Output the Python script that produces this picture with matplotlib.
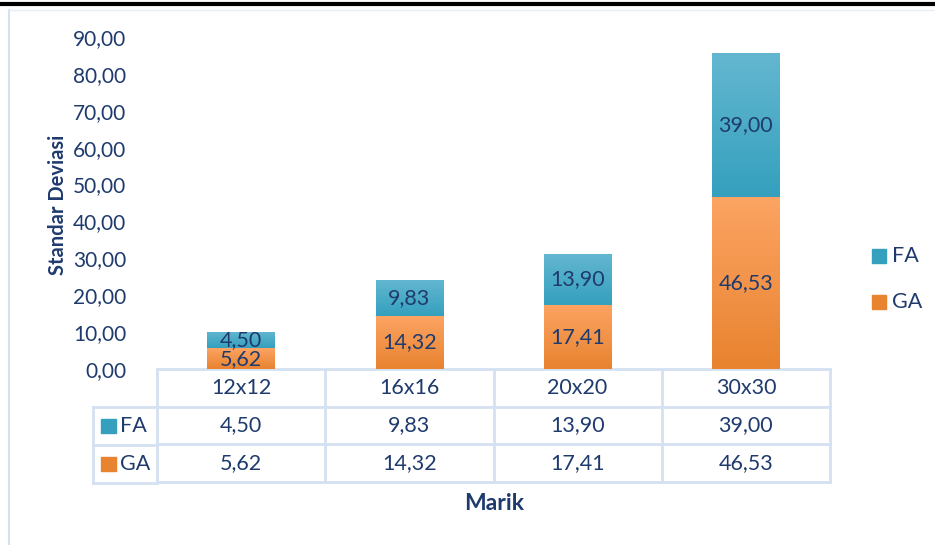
import numpy as np
import matplotlib.pyplot as plt
from matplotlib.patches import Rectangle
from matplotlib.lines import Line2D
from matplotlib.colors import LinearSegmentedColormap
from matplotlib.ticker import FuncFormatter
import matplotlib.transforms as mtransforms

plt.rcParams['font.family'] = ['Lato', 'DejaVu Sans']

categories = ['12x12', '16x16', '20x20', '30x30']
ga = [5.62, 14.32, 17.41, 46.53]
fa = [4.50, 9.83, 13.90, 39.00]
series_names = ['FA', 'GA']

txt = '#1F3B6E'
grid_c = '#D5E1F2'
ga_top, ga_bot = '#FCA463', '#E8832F'
fa_top, fa_bot = '#64B7D0', '#34A0BE'


def fmt(v):
    return f'{v:.2f}'.replace('.', ',')


fig = plt.figure(figsize=(9.35, 5.45), dpi=100)
W, H = 935, 545
ax = fig.add_axes([157 / W, (H - 369) / H, (830 - 157) / W, (369 - 37) / H])

x = np.arange(len(categories))
b_ga = ax.bar(x, ga, width=0.4, color=ga_bot, zorder=2)
b_fa = ax.bar(x, fa, width=0.4, bottom=ga, color=fa_bot, zorder=2)


def gradient(bars, top, bot):
    cmap = LinearSegmentedColormap.from_list('g', [bot, top])
    grad = np.linspace(0, 1, 256).reshape(-1, 1)
    for r in bars:
        x0, y0 = r.get_x(), r.get_y()
        w, h = r.get_width(), r.get_height()
        im = ax.imshow(grad, cmap=cmap, origin='lower', aspect='auto',
                       extent=[x0, x0 + w, y0, y0 + h], zorder=3)
        im.set_clip_path(r)


gradient(b_ga, ga_top, ga_bot)
gradient(b_fa, fa_top, fa_bot)

for i in range(len(categories)):
    ax.text(x[i], ga[i] / 2, fmt(ga[i]), ha='center', va='center',
            fontsize=15.5, color=txt, zorder=5)
    ax.text(x[i], ga[i] + fa[i] / 2, fmt(fa[i]), ha='center', va='center',
            fontsize=15.5, color=txt, zorder=5)

ax.set_xlim(-0.5, len(categories) - 0.5)
ax.set_ylim(0, 90)
ax.set_yticks(np.arange(0, 91, 10))
ax.yaxis.set_major_formatter(FuncFormatter(lambda v, p: fmt(v)))
ax.tick_params(axis='y', length=0, pad=22, labelsize=15, labelcolor=txt)
ax.set_xticks([])
for s in ax.spines.values():
    s.set_visible(False)

fig.text(58 / W, (H - 205) / H, 'Standar Deviasi', fontsize=14.5,
         fontweight='bold', color=txt, rotation=90, ha='center', va='center')

# data table below the axes
trans = mtransforms.blended_transform_factory(ax.transData, ax.transAxes)
rh = 37.7 / (369 - 37)
rows = [categories, [fmt(v) for v in fa], [fmt(v) for v in ga]]
for r, vals in enumerate(rows):
    yc = -(r + 0.5) * rh
    for i, v in enumerate(vals):
        ax.text(x[i], yc, v, transform=trans, ha='center', va='center',
                fontsize=15.5, color=txt, clip_on=False)

lw = 2
for xb in np.arange(-0.5, len(categories), 1.0):
    ax.add_line(Line2D([xb, xb], [0, -3 * rh], transform=trans, color=grid_c,
                       lw=lw, clip_on=False, zorder=1))
for k in range(4):
    ax.add_line(Line2D([-0.5, len(categories) - 0.5], [-k * rh, -k * rh],
                       transform=trans, color=grid_c, lw=lw, clip_on=False,
                       zorder=1))

# row header column in figure pixels
x_l = 93 / W
x_r = 157 / W
for yy in [407, 445, 483]:
    fig.add_artist(Line2D([x_l, x_r], [(H - yy) / H] * 2, color=grid_c, lw=lw))
fig.add_artist(Line2D([x_l, x_l], [(H - 407) / H, (H - 483) / H], color=grid_c, lw=lw))

for name, c, yy in [('FA', fa_bot, 426), ('GA', ga_bot, 464)]:
    fig.add_artist(Rectangle((101 / W, (H - yy - 7) / H), 15 / W, 14 / H,
                             color=c))
    fig.text(120 / W, (H - yy) / H, name, fontsize=15.5, color=txt,
             va='center', ha='left')

fig.text(494 / W, (H - 503) / H, 'Marik', fontsize=16.5, fontweight='bold',
         color=txt, ha='center', va='center')

# legend on the right
for name, c, yy in [('FA', fa_bot, 256), ('GA', ga_bot, 302)]:
    fig.add_artist(Rectangle((872 / W, (H - yy - 7) / H), 14 / W, 14 / H,
                             color=c))
    fig.text(892 / W, (H - yy) / H, name, fontsize=15.5, color=txt,
             va='center', ha='left')

# chart frame lines
fig.add_artist(Line2D([0, 1], [(H - 4) / H] * 2, color='black', lw=3))
fig.add_artist(Line2D([9 / W, 9 / W], [(H - 10) / H, 0], color=grid_c, lw=1.5))
fig.add_artist(Line2D([9 / W, 1], [(H - 10) / H] * 2, color='#E6EDF7', lw=1))

fig.savefig('out.png', dpi=100)
